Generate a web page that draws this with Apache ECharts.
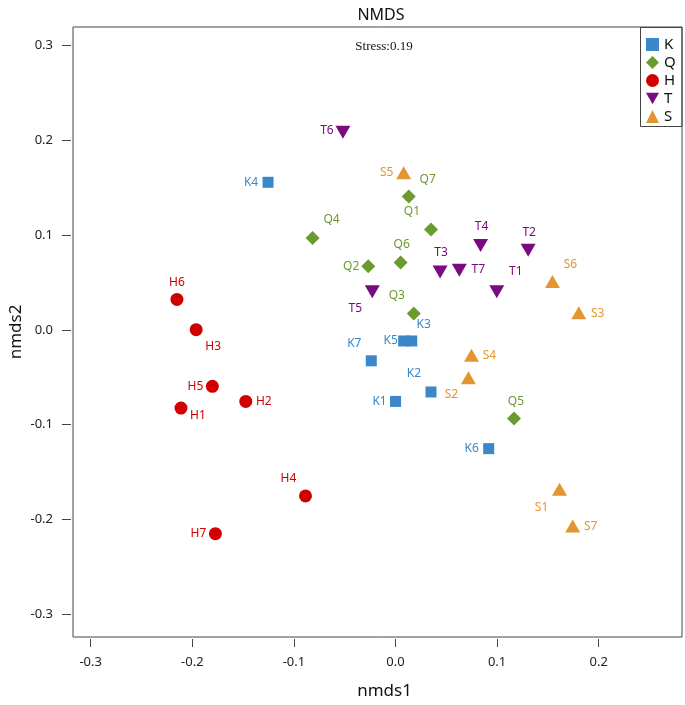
<!DOCTYPE html>
<html><head><meta charset="utf-8">
<script src="https://cdn.jsdelivr.net/npm/echarts@6/dist/echarts.min.js"></script>
<style>html,body{margin:0;padding:0;background:#fff}#c{width:685px;height:705px}</style>
</head><body><div id="c"></div>
<script>
// ---- data ----
const groups = ['K', 'Q', 'H', 'T', 'S'];
const kNames = ['K1','K2','K3','K4','K5','K6','K7'];
const kX = [-0.001, 0.034, 0.015, -0.127, 0.007, 0.091, -0.025];
const kY = [-0.077, -0.067, -0.013, 0.155, -0.013, -0.127, -0.034];
const qNames = ['Q1','Q2','Q3','Q4','Q5','Q6','Q7'];
const qX = [0.034, -0.028, 0.017, -0.083, 0.116, 0.004, 0.012];
const qY = [0.105, 0.066, 0.016, 0.096, -0.095, 0.070, 0.140];
const hNames = ['H1','H2','H3','H4','H5','H6','H7'];
const hX = [-0.213, -0.149, -0.198, -0.090, -0.182, -0.217, -0.179];
const hY = [-0.084, -0.077, -0.001, -0.177, -0.061, 0.031, -0.217];
const tNames = ['T1','T2','T3','T4','T5','T6','T7'];
const tX = [0.099, 0.130, 0.043, 0.083, -0.024, -0.053, 0.062];
const tY = [0.039, 0.083, 0.060, 0.088, 0.039, 0.208, 0.062];
const sNames = ['S1','S2','S3','S4','S5','S6','S7'];
const sX = [0.161, 0.071, 0.180, 0.074, 0.007, 0.154, 0.174];
const sY = [-0.170, -0.052, 0.017, -0.028, 0.165, 0.050, -0.209];
const xTicks = [-0.3, 0.2, 0.1];   // min, max, interval
const yTicks = [-0.3, 0.3, 0.1];
const stressText = 'Stress:0.19';

// ---- styling (label placements in px) ----
const labelOffsets = {
  K1:[-16,0], K2:[-17,-18], K3:[12,-16], K4:[-17,0], K5:[-13,0], K6:[-17,0], K7:[-17,-17],
  Q1:[-19,-18], Q2:[-17,0], Q3:[-17,-18], Q4:[19,-18], Q5:[2,-17], Q6:[1,-18], Q7:[19,-17],
  H1:[17,8], H2:[18,0], H3:[17,17], H4:[-17,-17], H5:[-17,0], H6:[0,-17], H7:[-17,0],
  T1:[19,-20], T2:[1,-18], T3:[1,-19], T4:[1,-19], T5:[-17,17], T6:[-16,-2], T7:[19,-1],
  S1:[-18,18], S2:[-17,17], S3:[19,1], S4:[18,0], S5:[-17,0], S6:[18,-17], S7:[18,0]
};
const colors = {K:'#3a87c9', Q:'#6b9a2e', H:'#d10000', T:'#7a0a80', S:'#e3962f'};
const symbols = {
  K:{symbol:'rect', size:11},
  Q:{symbol:'diamond', size:[14,14]},
  H:{symbol:'circle', size:13},
  T:{symbol:'path://M0,0L10,0L5,8.7Z', size:[15,13]},
  S:{symbol:'triangle', size:[15,13]}
};
const dataSets = {K:[kNames,kX,kY], Q:[qNames,qX,qY], H:[hNames,hX,hY], T:[tNames,tX,tY], S:[sNames,sX,sY]};

const FONT = 'Noto Sans';
const series = groups.map(g => {
  const [n, xs, ys] = dataSets[g];
  return {
    name: g, type: 'scatter', xAxisIndex: 0, yAxisIndex: 0,
    symbol: symbols[g].symbol, symbolSize: symbols[g].size,
    itemStyle: {color: colors[g], opacity: 1},
    label: {show: true, position: 'inside', formatter: p => p.name, color: colors[g],
            fontFamily: FONT, fontSize: 12},
    emphasis: {disabled: true},
    data: n.map((nm, i) => ({name: nm, value: [xs[i], ys[i]], label: {offset: labelOffsets[nm]}}))
  };
});

const chart = echarts.init(document.getElementById('c'), null, {renderer: 'canvas'});
chart.setOption({
  animation: false,
  backgroundColor: '#fff',
  title: [
    {text: 'NMDS', left: 376, top: 2, textAlign: 'center',
     textStyle: {fontFamily: FONT, fontSize: 16, fontWeight: 'normal', color: '#111'}},
    {text: stressText, left: 379, top: 35, textAlign: 'center',
     textStyle: {fontFamily: 'Liberation Serif', fontSize: 13, fontWeight: 'normal', color: '#111'}}
  ],
  legend: {
    orient: 'vertical', left: 646, top: 37, padding: 0, itemGap: 3,
    itemWidth: 13, itemHeight: 13,
    data: groups,
    textStyle: {fontFamily: FONT, fontSize: 15, color: '#111', lineHeight: 13}
  },
  grid: [
    {left: 71, top: 27, right: 3, bottom: 66, show: true, borderColor: '#444', borderWidth: 1},
    {left: 90.7, top: 45.7, right: 86.3, bottom: 91}
  ],
  xAxis: [
    {gridIndex: 0, type: 'value', min: -0.3197, max: 0.282,
     axisLine: {show: false, onZero: false}, axisTick: {show: false}, axisLabel: {show: false}, splitLine: {show: false},
     name: 'nmds1', nameLocation: 'middle', nameGap: 46,
     nameTextStyle: {fontFamily: FONT, fontSize: 17, color: '#111', padding: [0, 0, 0, 14]}},
    {gridIndex: 1, type: 'value', min: xTicks[0], max: xTicks[1], interval: xTicks[2], offset: 25,
     axisLine: {show: false, onZero: false}, axisTick: {show: true, length: 8, lineStyle: {color: '#444'}},
     axisLabel: {margin: 17, fontFamily: FONT, fontSize: 13, color: '#222', formatter: v => v.toFixed(1)},
     splitLine: {show: false}}
  ],
  yAxis: [
    {gridIndex: 0, type: 'value', min: -0.3264, max: 0.3194,
     axisLine: {show: false, onZero: false}, axisTick: {show: false}, axisLabel: {show: false}, splitLine: {show: false},
     name: 'nmds2', nameLocation: 'middle', nameGap: 48,
     nameTextStyle: {fontFamily: FONT, fontSize: 17, color: '#111'}},
    {gridIndex: 1, type: 'value', min: yTicks[0], max: yTicks[1], interval: yTicks[2], offset: 19.7,
     axisLine: {show: false, onZero: false}, axisTick: {show: true, length: 9, lineStyle: {color: '#444'}},
     axisLabel: {margin: 18, fontFamily: FONT, fontSize: 13, color: '#222', formatter: v => v.toFixed(1)},
     splitLine: {show: false}}
  ],
  graphic: [
    {type: 'rect', shape: {x: 640.5, y: 27.5, width: 41.5, height: 99}, style: {fill: null, stroke: '#444', lineWidth: 1}, silent: true}
  ],
  series: series
});
</script></body></html>
